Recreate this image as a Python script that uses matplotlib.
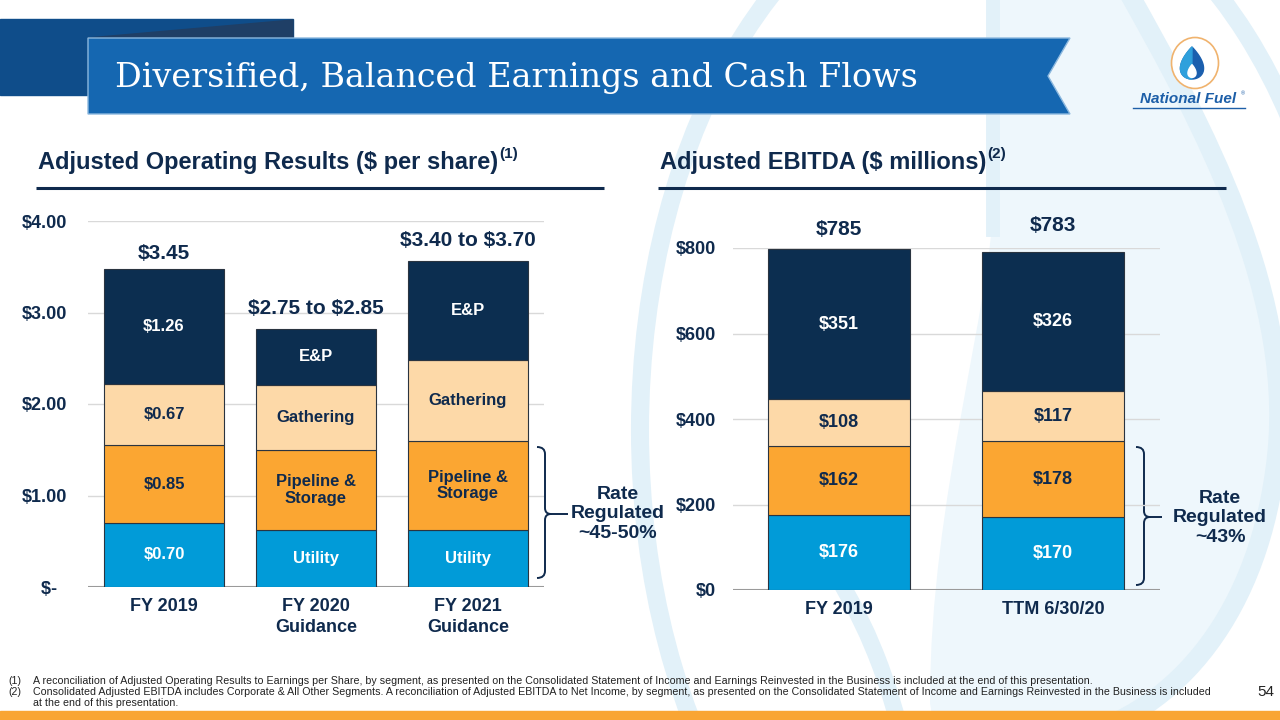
import numpy as np
import matplotlib
matplotlib.use('Agg')
from matplotlib import pyplot as plt
from matplotlib.patches import Polygon, Ellipse, PathPatch
from matplotlib.path import Path

plt.rcParams['font.family'] = ['Liberation Sans', 'DejaVu Sans']
plt.rcParams['text.parse_math'] = False

# 数据：每股调整后经营业绩
eps_categories = ['FY 2019', 'FY 2020\nGuidance', 'FY 2021\nGuidance']
eps_utility = [0.70, 0.62, 0.62]
eps_pipeline = [0.85, 0.88, 0.98]
eps_gathering = [0.67, 0.71, 0.88]
eps_ep = [1.26, 0.61, 1.08]
eps_totals = ['$3.45', '$2.75 to $2.85', '$3.40 to $3.70']
eps_utility_labels = ['$0.70', 'Utility', 'Utility']
eps_pipeline_labels = ['$0.85', 'Pipeline &\nStorage', 'Pipeline &\nStorage']
eps_gathering_labels = ['$0.67', 'Gathering', 'Gathering']
eps_ep_labels = ['$1.26', 'E&P', 'E&P']
eps_ticks = [0, 1, 2, 3, 4]
eps_tick_labels = ['$-  ', '$1.00', '$2.00', '$3.00', '$4.00']

# 数据：调整后EBITDA
ebitda_categories = ['FY 2019', 'TTM 6/30/20']
ebitda_utility = [176, 170]
ebitda_pipeline = [162, 178]
ebitda_gathering = [108, 117]
ebitda_ep = [351, 326]
ebitda_totals = ['$785', '$783']
ebitda_ticks = [0, 200, 400, 600, 800]
ebitda_tick_labels = ['$0', '$200', '$400', '$600', '$800']

NAVY = '#0f2a4d'
C_UTIL = '#019bd8'
C_PIPE = '#fba632'
C_GATH = '#fdd9a8'
C_EP = '#0c2e50'
EDGE = '#2a3440'
LIGHT = '#e2f1f9'
W, H = 1280, 720

def px_rect(x0, y0, x1, y1):
    return [x0 / W, 1 - y1 / H, (x1 - x0) / W, (y1 - y0) / H]

fig = plt.figure(figsize=(12.8, 7.2), dpi=100)

# 背景层（像素坐标）
bg = fig.add_axes([0, 0, 1, 1], zorder=0)
bg.set_xlim(0, W)
bg.set_ylim(H, 0)
bg.axis('off')

# 水印：大圆环 + 水滴
C4 = Path.CURVE4
drop = Path([(993, -10), (1127, -10), (1200, 120), (1300, 300), (1275, 470),
             (1255, 620), (1170, 720), (1060, 740), (980, 760), (930, 740), (930, 700),
             (930, 500), (993, 300), (993, 200), (993, -10)],
            [Path.MOVETO, Path.LINETO, C4, C4, C4, C4, C4, C4, C4, C4, C4, C4, C4, C4,
             Path.LINETO])
bg.add_patch(PathPatch(drop, facecolor='#eef7fc', edgecolor='none', zorder=0.1))
bg.add_patch(PathPatch(Path([(1127, -10), (1200, 120), (1300, 300), (1275, 470),
                             (1255, 620), (1170, 720), (1060, 740)],
                            [Path.MOVETO, C4, C4, C4, C4, C4, C4]),
                       fill=False, edgecolor=LIGHT, lw=14, zorder=0.2))
bg.plot([993, 993], [-10, 230], color=LIGHT, lw=10, zorder=0.2)
bg.add_patch(Ellipse((995, 430), 710, 1120, fill=False, edgecolor=LIGHT, lw=13, zorder=0.2))
bg.add_patch(PathPatch(Path([(800, 520), (850, 590), (880, 650), (900, 730)],
                            [Path.MOVETO, C4, C4, C4]),
                       fill=False, edgecolor=LIGHT, lw=12, zorder=0.2))

# 标题横幅
bg.add_patch(Polygon([(0, 19), (293, 19), (293, 95), (0, 95)], closed=True, color='#0f4d8a'))
bg.add_patch(Polygon([(88, 38), (293, 20), (293, 38)], closed=True, color='#1f3f66'))
bg.add_patch(Polygon([(88, 38), (1070, 38), (1048, 76), (1070, 114), (88, 114)],
                     closed=True, facecolor='#1567b1', edgecolor='#8cb8de', lw=1))
bg.text(115, 78, 'Diversified, Balanced Earnings and Cash Flows', color='white',
        fontsize=24, family='DejaVu Serif', va='center', ha='left')

# 标志
bg.add_patch(Ellipse((1195, 63), 47, 51, facecolor='white', edgecolor='#f0b36e', lw=1.2))
t = np.linspace(0, 2 * np.pi, 200)
fx = 1192 + 15 * np.sin(t) * np.sin(t / 2)
fy = 63 - 16 * np.cos(t)
bg.add_patch(Polygon(np.column_stack([fx, fy]), closed=True, color='#1b5fae'))
half = t >= np.pi
bg.add_patch(Polygon(np.column_stack([fx[half], fy[half]]), closed=True, color='#2fa0dc'))
bg.add_patch(Polygon(np.column_stack([1192 + 0.35 * (fx - 1192), 71 + 0.4 * (fy - 63)]),
                     closed=True, color='white'))
bg.text(1188, 99, 'National Fuel', color='#1d5fa8', fontsize=11, fontweight='bold',
        style='italic', ha='center', va='center')
bg.text(1241, 94, '®', color='#1d5fa8', fontsize=4, ha='left', va='center')
bg.plot([1133, 1245], [108, 108], color='#1d5fa8', lw=1)

# 小标题
for x, y, txt, sup, x0, x1 in [(38, 169, 'Adjusted Operating Results ($ per share)', '(1)', 36, 604),
                              (660, 169, 'Adjusted EBITDA ($ millions)', '(2)', 658, 1226)]:
    h = bg.text(x, y, txt, color=NAVY, fontsize=17, fontweight='bold', va='baseline')
    fig.canvas.draw()
    bb = h.get_window_extent(fig.canvas.get_renderer())
    bg.text(bb.x1 + 1, y - 11, sup, color=NAVY, fontsize=11, fontweight='bold', va='baseline')
    bg.plot([x0, x1], [188, 188], color=NAVY, lw=2.2, solid_capstyle='butt')

# 堆叠柱状图
def stacked(ax, cats, segs, seg_labels, width, fs):
    x = np.arange(len(cats))
    bottom = np.zeros(len(cats))
    styles = [(C_UTIL, 'white'), (C_PIPE, NAVY), (C_GATH, NAVY), (C_EP, 'white')]
    for vals, labs, (col, tcol) in zip(segs, seg_labels, styles):
        vals = np.array(vals, dtype=float)
        ax.bar(x, vals, width, bottom=bottom, color=col, edgecolor=EDGE, lw=0.8, zorder=2)
        for xi, v, b, lab in zip(x, vals, bottom, labs):
            ax.text(xi, b + v / 2, lab, ha='center', va='center', color=tcol, fontsize=fs,
                    fontweight='bold', zorder=3, linespacing=1.15)
        bottom += vals
    return x, bottom

def style_axis(ax, ticks, labels, ymax, pad):
    ax.set_facecolor('none')
    ax.set_ylim(0, ymax)
    ax.set_yticks(ticks)
    ax.set_yticklabels(labels)
    ax.tick_params(axis='y', length=0, pad=pad, labelsize=13, labelcolor=NAVY)
    ax.tick_params(axis='x', length=0, pad=8, labelsize=13, labelcolor=NAVY)
    for lab in ax.get_yticklabels() + ax.get_xticklabels():
        lab.set_fontweight('bold')
    for s in ax.spines.values():
        s.set_visible(False)
    ax.yaxis.grid(True, color='#d9d9d9', lw=1)
    ax.set_axisbelow(True)
    ax.axhline(0, color='#9a9a9a', lw=1.5, zorder=1)

ax1 = fig.add_axes(px_rect(88, 221, 544, 587), zorder=1)
x1, top1 = stacked(ax1, eps_categories, [eps_utility, eps_pipeline, eps_gathering, eps_ep],
                   [eps_utility_labels, eps_pipeline_labels, eps_gathering_labels, eps_ep_labels],
                   0.79, 12)
ax1.set_xlim(-0.5, 2.5)
ax1.set_xticks(x1)
ax1.set_xticklabels(eps_categories, linespacing=1.3)
style_axis(ax1, eps_ticks, eps_tick_labels, 4, 15)
for xi, tp, lab, off in zip(x1, top1, eps_totals, [11, 15, 15]):
    ax1.annotate(lab, (xi, tp), xytext=(0, off), textcoords='offset points', ha='center',
                 va='center', fontsize=15, fontweight='bold', color=NAVY)

ax2 = fig.add_axes(px_rect(733, 248, 1160, 590), zorder=1)
e_segs = [ebitda_utility, ebitda_pipeline, ebitda_gathering, ebitda_ep]
x2, top2 = stacked(ax2, ebitda_categories, e_segs,
                   [['$%d' % v for v in s] for s in e_segs], 0.66, 13)
ax2.set_xlim(-0.495, 1.5)
ax2.set_xticks(x2)
ax2.set_xticklabels(ebitda_categories)
style_axis(ax2, ebitda_ticks, ebitda_tick_labels, 800, 12)
for xi, tp, lab, off in zip(x2, top2, ebitda_totals, [14, 19]):
    ax2.annotate(lab, (xi, tp), xytext=(0, off), textcoords='offset points', ha='center',
                 va='center', fontsize=15, fontweight='bold', color=NAVY)

# 括号与注释
def brace(x, y0, y1, ym, tip):
    C3 = Path.CURVE3
    v = [(x - 8, y0), (x, y0), (x, y0 + 7), (x, ym - 6), (x, ym), (x + 6, ym), (tip, ym),
         (x + 6, ym), (x, ym), (x, ym + 6), (x, y1 - 7), (x, y1), (x - 8, y1)]
    c = [Path.MOVETO, C3, C3, Path.LINETO, C3, C3, Path.LINETO,
         Path.MOVETO, C3, C3, Path.LINETO, C3, C3]
    bg.add_patch(PathPatch(Path(v, c), fill=False, edgecolor=NAVY, lw=1.4, zorder=5))

brace(545, 447, 578, 514, 568)
bg.text(618, 514, 'Rate\nRegulated\n~45-50%', ha='center', va='center', fontsize=14,
        fontweight='bold', color=NAVY, linespacing=1.2)
brace(1144, 447, 585, 517, 1162)
bg.text(1220, 518, 'Rate\nRegulated\n~43%', ha='center', va='center', fontsize=14,
        fontweight='bold', color=NAVY, linespacing=1.2)

# 脚注
notes = [('(1)', 681, 'A reconciliation of Adjusted Operating Results to Earnings per Share, by segment, as presented on the Consolidated Statement of Income and Earnings Reinvested in the Business is included at the end of this presentation.'),
         ('(2)', 692, 'Consolidated Adjusted EBITDA includes Corporate & All Other Segments. A reconciliation of Adjusted EBITDA to Net Income, by segment, as presented on the Consolidated Statement of Income and Earnings Reinvested in the Business is included')]
for num, y, txt in notes:
    bg.text(8, y, num, fontsize=7.65, color='#222222', va='center')
    bg.text(33, y, txt, fontsize=7.65, color='#222222', va='center')
bg.text(33, 703, 'at the end of this presentation.', fontsize=7.65, color='#222222', va='center')
bg.text(1266, 692, '54', fontsize=11, color='#222222', va='center', ha='center')
bg.add_patch(Polygon([(0, 711), (W, 711), (W, H), (0, H)], closed=True, color='#f9a533'))

fig.savefig('out.png', dpi=100)
